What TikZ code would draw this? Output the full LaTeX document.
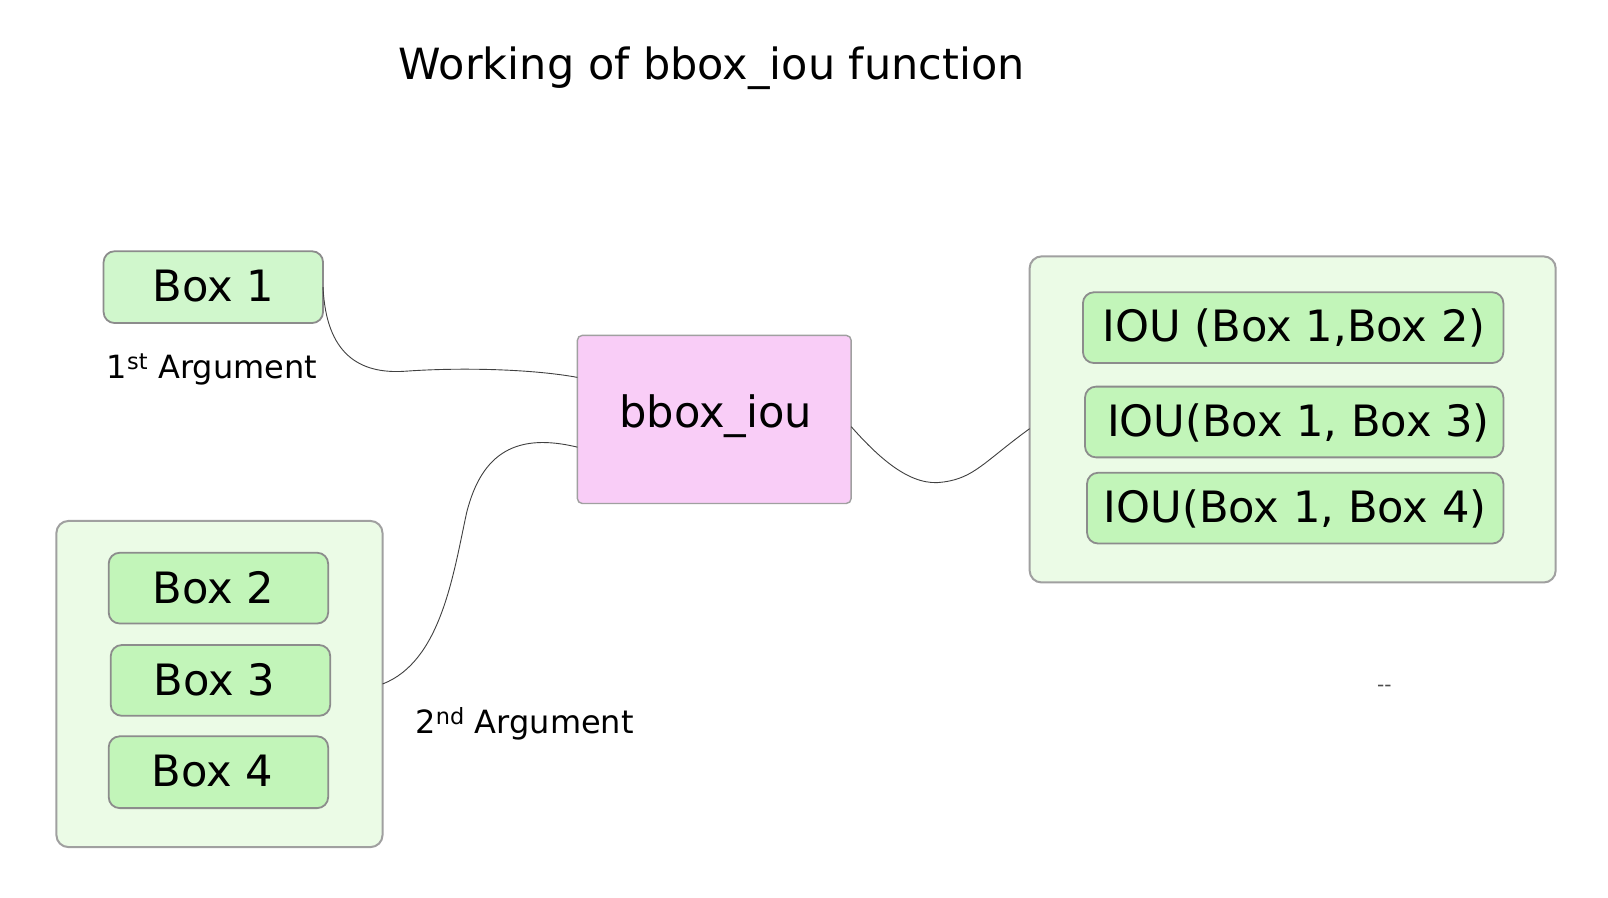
\documentclass[tikz,border=0pt]{standalone}
\usepackage{fontspec}
\setmainfont{DejaVu Sans}
\usetikzlibrary{calc}
\definecolor{boxgreen}{HTML}{C2F5B9}
\definecolor{boxlight}{HTML}{D0F7CC}
\definecolor{groupgreen}{HTML}{EBFBE6}
\definecolor{pinkfill}{HTML}{F9CDF7}
\definecolor{bordergray}{HTML}{A0A0A0}
\definecolor{innergray}{HTML}{8C8C8C}
\tikzset{
  x=1.0255pt, y=-1.0255pt,
  groupbox/.style={draw=bordergray, line width=2pt, fill=groupgreen, rounded corners=12pt},
  itembox/.style={draw=innergray, line width=1.8pt, fill=boxgreen, rounded corners=11pt},
  funcbox/.style={draw=bordergray, line width=1.4pt, fill=pinkfill, rounded corners=5pt},
  conn/.style={draw=black!75, line width=0.9pt},
  lbl/.style={font=\fontsize{43.2}{50}\selectfont, inner sep=0pt},
  arglbl/.style={font=\fontsize{32}{36}\selectfont, inner sep=0pt, anchor=west},
}
\begin{document}
\begin{tikzpicture}
\useasboundingbox (0,0) rectangle (1568,875.6);
\fill[white] (0,0) rectangle (1568,875.6);
% title
\node[font=\fontsize{43}{50}\selectfont, inner sep=0pt] (title) at (694,67) {Working of bbox\_iou function};
% box 1
\draw[itembox, fill=boxlight] (101,245) rectangle (315,315);
\node[lbl] (box1) at (208,279) {Box 1};
\coordinate (b1e) at (315,280);
\node[arglbl] (arg1) at (104,360) {1\textsuperscript{st} Argument};
% function box
\draw[funcbox] (563,327) rectangle (830,491);
\node[lbl] (bbox) at (698,406) {bbox\_iou};
\coordinate (fin1) at (563,368);
\coordinate (fin2) at (563,436);
\coordinate (fout) at (830,416);
% left group
\draw[groupbox] (55,508) rectangle (373,826);
\coordinate (lge) at (373,667);
\draw[itembox] (106,539) rectangle (320,608);
\node[lbl] (box2) at (208,573) {Box 2};
\draw[itembox] (108,629) rectangle (322,698);
\node[lbl] (box3) at (209,663) {Box 3};
\draw[itembox] (106,718) rectangle (320,788);
\node[lbl] (box4) at (207,752) {Box 4};
\node[arglbl] (arg2) at (405,706) {2\textsuperscript{nd} Argument};
% right group
\draw[groupbox] (1004,250) rectangle (1517,568);
\coordinate (rgw) at (1004,418);
\draw[itembox] (1056,285) rectangle (1466,354);
\node[lbl] (iou2) at (1262,320) {IOU (Box 1,Box 2)};
\draw[itembox] (1058,377) rectangle (1466,446);
\node[lbl] (iou3) at (1266,412) {IOU(Box 1, Box 3)};
\draw[itembox] (1060,461) rectangle (1466,530);
\node[lbl] (iou4) at (1263,496) {IOU(Box 1, Box 4)};
% small dash text
\node[font=\fontsize{20}{22}\selectfont, text=black!70, inner sep=0pt] (dash) at (1350,671) {-{}-};
% connectors
\draw[conn] (b1e) .. controls (318,345) and (350,365) .. (395,362)
  .. controls (450,358) and (520,360) .. (fin1);
\draw[conn] (lge) .. controls (430,645) and (442,560) .. (455,500)
  .. controls (470,440) and (505,422) .. (fin2);
\draw[conn] (fout) .. controls (860,450) and (890,475) .. (920,470)
  .. controls (950,466) and (960,450) .. (rgw);
\end{tikzpicture}
\end{document}
